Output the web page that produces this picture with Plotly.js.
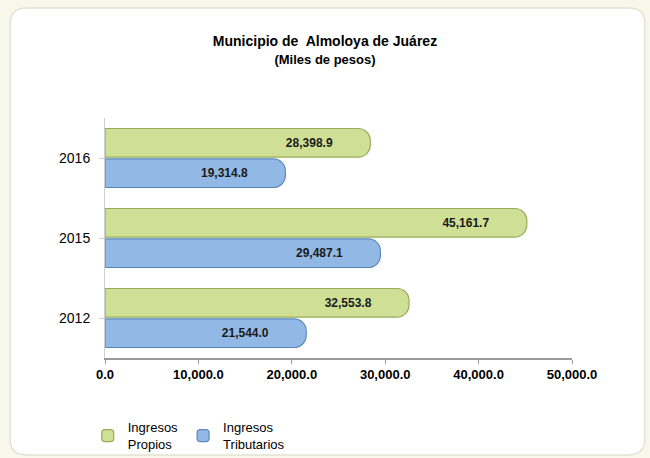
<!DOCTYPE html>
<html>
<head>
<meta charset="utf-8">
<script src="https://cdn.plot.ly/plotly-3.0.1.min.js"></script>
<style>
  html, body { margin: 0; padding: 0; background: #f8f8ea; }
  #chart { width: 650px; height: 458px; }
</style>
</head>
<body>
<div id="chart"></div>
<script>
const years = ['2012', '2015', '2016'];
const ingresosPropios = [32553.8, 45161.7, 28398.9];
const ingresosTributarios = [21544.0, 29487.1, 19314.8];
const xTicks = [0, 10000, 20000, 30000, 40000, 50000];

const FONT = 'Liberation Sans, Arial, sans-serif';

const common = {
  type: 'bar',
  orientation: 'h',
  y: years,
  texttemplate: '%{x:,.1f}\u00a0\u00a0\u00a0\u00a0\u00a0\u00a0\u00a0\u00a0\u00a0\u00a0',
  textposition: 'inside',
  insidetextanchor: 'end',
  textfont: { family: FONT, size: 12, color: '#1a1a1a', weight: 'bold' },
  constraintext: 'none',
  hoverinfo: 'skip'
};

const traces = [
  Object.assign({}, common, {
    name: 'Ingresos<br>Tributarios',
    x: ingresosTributarios,
    marker: { color: '#92b8e6', line: { color: '#5f88bd', width: 1.2 }, cornerradius: 12 }
  }),
  Object.assign({}, common, {
    name: 'Ingresos<br>Propios',
    x: ingresosPropios,
    marker: { color: '#cfdf96', line: { color: '#97ac58', width: 1.2 }, cornerradius: 12 }
  })
];

// rounded white panel (paper coords)
const px0 = -0.203, px1 = 1.156, py0 = -0.404, py1 = 1.458, rx = 0.034, ry = 0.066;
const panelPath =
  `M ${px0 + rx},${py1} L ${px1 - rx},${py1} Q ${px1},${py1} ${px1},${py1 - ry} ` +
  `L ${px1},${py0 + ry} Q ${px1},${py0} ${px1 - rx},${py0} ` +
  `L ${px0 + rx},${py0} Q ${px0},${py0} ${px0},${py0 + ry} ` +
  `L ${px0},${py1 - ry} Q ${px0},${py1} ${px0 + rx},${py1} Z`;

const layout = {
  width: 650,
  height: 458,
  paper_bgcolor: 'rgba(0,0,0,0)',
  plot_bgcolor: 'rgba(0,0,0,0)',
  font: { family: FONT, color: '#000' },
  title: {
    text: '<b>Municipio de  Almoloya de Juárez</b><br><span style="font-size:13px"><b>(Miles de pesos)</b></span>',
    x: 0.5, xanchor: 'center',
    y: 0.9, yanchor: 'top',
    font: { size: 14, family: FONT }
  },
  margin: { l: 105, r: 78, t: 118, b: 100, autoexpand: false },
  barmode: 'group',
  bargap: 0.24,
  bargroupgap: 0.06,
  xaxis: {
    range: [0, 50000],
    tickvals: xTicks,
    tickformat: ',.1f',
    tickfont: { size: 13, family: FONT, color: '#000', weight: 'bold' },
    ticks: 'outside', ticklen: 4, tickcolor: '#999',
    showline: true, linecolor: '#9a9a9a', linewidth: 1.5,
    showgrid: false, zeroline: false,
    fixedrange: true
  },
  yaxis: {
    type: 'category',
    tickfont: { size: 14, color: '#000' },
    ticks: 'outside', ticklen: 5, tickcolor: '#ccc',
    showline: true, linecolor: '#d0d0d0', linewidth: 1,
    showgrid: false,
    ticklabelstandoff: 6,
    fixedrange: true
  },
  legend: {
    orientation: 'h',
    traceorder: 'reversed',
    xref: 'container', yref: 'container',
    x: 0.135, xanchor: 'left',
    y: 0.1, yanchor: 'top',
    font: { size: 13, family: FONT, color: '#000' },
    itemwidth: 30,
    bgcolor: 'rgba(0,0,0,0)'
  },
  shapes: [{
    type: 'path', xref: 'paper', yref: 'paper', layer: 'below',
    path: panelPath,
    fillcolor: '#ffffff', line: { color: '#e2e2d4', width: 1.5 }
  }],
  showlegend: true
};

Plotly.newPlot('chart', traces, layout, { displayModeBar: false, staticPlot: true });
</script>
</body>
</html>
